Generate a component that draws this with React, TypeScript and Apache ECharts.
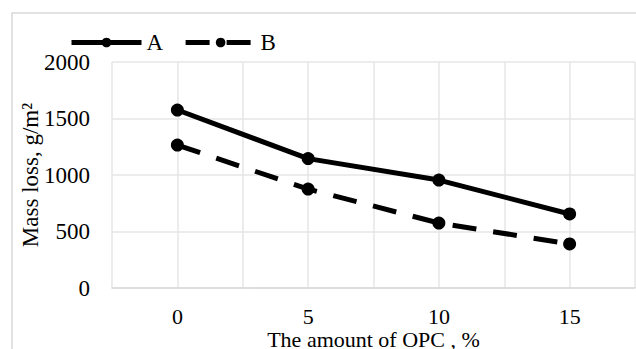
import React, { useEffect, useRef } from "react";
import * as echarts from "echarts";

const opcAmount = [0, 5, 10, 15];
const seriesA = [1575, 1145, 955, 655];
const seriesB = [1265, 875, 575, 390];
const seriesNames = ["A", "B"];
const xTitle = "The amount of OPC , %";
const yTitle = "Mass loss, g/m\u00B2";

const FONT = "Liberation Serif";

export default function App() {
  const ref = useRef<HTMLDivElement>(null);

  useEffect(() => {
    if (!ref.current) return;
    const chart = echarts.init(ref.current, undefined, { renderer: "svg" });
    const pairs = (ys: number[]) => opcAmount.map((x, i) => [x, ys[i]]);

    chart.setOption({
      animation: false,
      backgroundColor: "#ffffff",
      textStyle: { fontFamily: FONT, color: "#000" },
      graphic: [
        {
          type: "rect",
          shape: { x: 12, y: 13, width: 700, height: 400 },
          style: { fill: "none", stroke: "#d9d9d9", lineWidth: 1.5 },
          silent: true,
        },
      ],
      legend: {
        left: 64,
        top: 26,
        itemWidth: 70,
        itemHeight: 12,
        itemGap: 20,
        lineStyle: { width: 5 },
        textStyle: { fontFamily: FONT, fontSize: 23, color: "#000" },
        data: seriesNames,
      },
      grid: { left: 112, right: 1, top: 62, bottom: 61, outerBoundsMode: "none", containLabel: false },
      xAxis: {
        type: "value",
        min: -2.5,
        max: 17.5,
        interval: 2.5,
        name: xTitle,
        nameLocation: "middle",
        nameGap: 42,
        nameMoveOverlap: false,
        nameTextStyle: { fontFamily: FONT, fontSize: 22, lineHeight: 18, color: "#000" },
        axisLine: { show: true, lineStyle: { color: "#d9d9d9", width: 1.5 } },
        axisTick: { show: false },
        splitLine: { show: true, lineStyle: { color: "#e6e6e6", width: 1.5 } },
        axisLabel: {
          fontFamily: FONT,
          fontSize: 22,
          lineHeight: 18,
          color: "#000",
          margin: 19,
          formatter: (v: number) => (v % 5 === 0 && v >= 0 && v <= 15 ? String(v) : ""),
        },
      },
      yAxis: {
        type: "value",
        min: 0,
        max: 2000,
        interval: 500,
        name: yTitle,
        nameLocation: "middle",
        nameGap: 70,
        nameMoveOverlap: false,
        nameTextStyle: { fontFamily: FONT, fontSize: 23, color: "#000" },
        axisLine: { show: false },
        axisTick: { show: false },
        splitLine: { show: true, lineStyle: { color: "#e6e6e6", width: 1.5 } },
        axisLabel: {
          fontFamily: FONT,
          fontSize: 23,
          color: "#000",
          margin: 22,
          formatter: (v: number) => String(v),
        },
      },
      series: [
        {
          name: seriesNames[0],
          type: "line",
          data: pairs(seriesA),
          symbol: "circle",
          symbolSize: 13,
          itemStyle: { color: "#000" },
          lineStyle: { color: "#000", width: 5 },
        },
        {
          name: seriesNames[1],
          type: "line",
          data: pairs(seriesB),
          symbol: "circle",
          symbolSize: 13,
          itemStyle: { color: "#000" },
          lineStyle: { color: "#000", width: 5, type: [24, 17] },
        },
      ],
    });
    return () => chart.dispose();
  }, []);

  return <div ref={ref} style={{ width: 636, height: 349, position: "absolute", left: 0, top: 0 }} />;
}
